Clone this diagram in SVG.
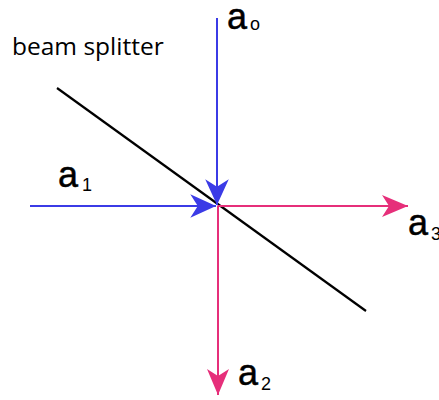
<svg xmlns="http://www.w3.org/2000/svg" width="439" height="400" viewBox="0 0 439 400">
<style>
.blue{stroke:#3b3be6;stroke-width:2;fill:none}
.pink{stroke:#e62f7a;stroke-width:2;fill:none}
.bs{stroke:#000;stroke-width:2.2;fill:none}
.lbl{font-family:"Liberation Sans",Arial,sans-serif;font-size:36px;fill:#000;stroke:#000;stroke-width:0.5}
.sub{font-family:"Liberation Sans",Arial,sans-serif;font-size:18px;fill:#000}
.t{font-family:"Open Sans","Liberation Sans",sans-serif;font-size:24.5px;fill:#000}
</style>
<defs>
<marker id="ab" markerUnits="userSpaceOnUse" markerWidth="30" markerHeight="30" viewBox="-26 -12 28 24" refX="0" refY="0" orient="auto">
<path d="M0,0 L-24,-11 L-17,0 L-24,11 Z" fill="#3b3be6"/>
</marker>
<marker id="ap" markerUnits="userSpaceOnUse" markerWidth="30" markerHeight="30" viewBox="-28 -12 30 24" refX="0" refY="0" orient="auto">
<path d="M0,0 L-26,-11 L-19,0 L-26,11 Z" fill="#e62f7a"/>
</marker>
</defs>
<g id="splitter">
<line class="bs" x1="57" y1="88" x2="366" y2="311"/>
<text class="t" x="12" y="55">beam splitter</text>
</g>
<g id="connectors">
<line class="blue" x1="217" y1="18" x2="217" y2="205" marker-end="url(#ab)"/>
<line class="blue" x1="30" y1="206" x2="216" y2="206" marker-end="url(#ab)"/>
<line class="pink" x1="218" y1="206" x2="408" y2="206" marker-end="url(#ap)"/>
<line class="pink" x1="218" y1="206" x2="218" y2="395" marker-end="url(#ap)"/>
</g>
<g id="a0"><text class="lbl" x="227" y="29">a</text><text class="sub" x="250" y="30">o</text></g>
<g id="a1"><text class="lbl" x="58" y="187">a</text><text class="sub" x="82" y="191">1</text></g>
<g id="a3"><text class="lbl" x="408" y="235">a</text><text class="sub" x="431" y="240">3</text></g>
<g id="a2"><text class="lbl" x="238" y="385">a</text><text class="sub" x="261" y="390">2</text></g>
</svg>
